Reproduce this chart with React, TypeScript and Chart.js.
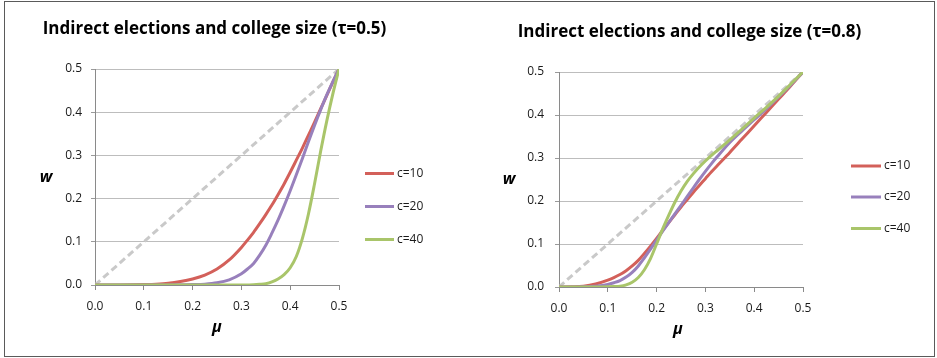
import React, { useEffect, useRef } from 'react';
import { Chart, registerables } from 'chart.js';

Chart.register(...registerables);

// ---------- data ----------
// tau = 0.5 panel
const MU_LEFT = [0, 0.025, 0.05, 0.075, 0.1, 0.125, 0.15, 0.175, 0.2, 0.225, 0.25, 0.275, 0.3, 0.3125, 0.325, 0.3375, 0.35, 0.3625, 0.375, 0.3875, 0.4, 0.4125, 0.425, 0.4375, 0.45, 0.4625, 0.475, 0.4875, 0.5];
const TAU05_C10 = [0, 0, 0, 0.0003, 0.001, 0.002, 0.004, 0.008, 0.014, 0.023, 0.037, 0.058, 0.087, 0.104, 0.122, 0.142, 0.163, 0.185, 0.209, 0.234, 0.261, 0.289, 0.317, 0.347, 0.377, 0.408, 0.439, 0.47, 0.5];
const TAU05_C20 = [0, 0, 0, 0, 0, 0, 0, 0.0005, 0.001, 0.002, 0.005, 0.012, 0.026, 0.037, 0.05, 0.069, 0.092, 0.12, 0.15, 0.183, 0.218, 0.255, 0.293, 0.332, 0.37, 0.406, 0.44, 0.471, 0.5];
const TAU05_C40 = [0, 0, 0, 0, 0, 0, 0, 0, 0, 0, 0, 0, 0, 0.0002, 0.0005, 0.0015, 0.003, 0.007, 0.014, 0.024, 0.04, 0.066, 0.108, 0.165, 0.235, 0.31, 0.38, 0.443, 0.5];

// tau = 0.8 panel
const MU_RIGHT = [0, 0.025, 0.05, 0.075, 0.1, 0.1125, 0.125, 0.1375, 0.15, 0.1625, 0.175, 0.1875, 0.2, 0.2125, 0.225, 0.2375, 0.25, 0.2625, 0.275, 0.2875, 0.3, 0.3125, 0.325, 0.35, 0.375, 0.4, 0.425, 0.45, 0.475, 0.5];
const TAU08_C10 = [0, 0.0005, 0.002, 0.007, 0.016, 0.022, 0.029, 0.038, 0.049, 0.062, 0.078, 0.095, 0.113, 0.132, 0.15, 0.168, 0.186, 0.203, 0.22, 0.236, 0.252, 0.268, 0.283, 0.313, 0.344, 0.375, 0.406, 0.437, 0.468, 0.5];
const TAU08_C20 = [0, 0, 0.0005, 0.002, 0.006, 0.01, 0.015, 0.023, 0.034, 0.049, 0.068, 0.088, 0.109, 0.13, 0.15, 0.17, 0.19, 0.21, 0.23, 0.25, 0.269, 0.287, 0.304, 0.336, 0.363, 0.389, 0.415, 0.442, 0.47, 0.5];
const TAU08_C40 = [0, 0, 0, 0, 0.0005, 0.001, 0.002, 0.005, 0.011, 0.022, 0.04, 0.066, 0.1, 0.135, 0.167, 0.197, 0.223, 0.245, 0.263, 0.279, 0.293, 0.306, 0.318, 0.342, 0.367, 0.393, 0.418, 0.444, 0.472, 0.5];

// 45-degree reference line
const DIAG_MU = [0, 0.5];
const DIAG_W = [0, 0.5];

const SERIES_LABELS = ['c=10', 'c=20', 'c=40'];
const SERIES_COLORS = ['#d3605a', '#9880bc', '#a9c56a'];
const X_TICKS = [0, 0.1, 0.2, 0.3, 0.4, 0.5];
const Y_TICKS = [0, 0.1, 0.2, 0.3, 0.4, 0.5];
const TITLE_LEFT = 'Indirect elections and college size (τ=0.5)';
const TITLE_RIGHT = 'Indirect elections and college size (τ=0.8)';
const X_TITLE = 'μ';
const Y_TITLE = 'w';

const FONT = '"Open Sans", Lato, "DejaVu Sans", sans-serif';

const annotPlugin = {
  id: 'annot',
  afterDraw(chart: any, _args: any, opts: any) {
    const ctx = chart.ctx;
    ctx.save();
    ctx.textBaseline = 'middle';
    ctx.textAlign = 'center';
    ctx.fillStyle = '#000';
    ctx.font = `bold 17px ${FONT}`;
    ctx.fillText(opts.title, opts.titleX, opts.titleY);
    ctx.font = `italic bold 16px ${FONT}`;
    ctx.fillText(Y_TITLE, opts.yTitleX, opts.yTitleY);
    ctx.fillText(X_TITLE, opts.xTitleX, opts.xTitleY);
    ctx.textAlign = 'left';
    ctx.font = `12px ${FONT}`;
    let k = 0;
    chart.data.datasets.forEach((ds: any) => {
      if (!ds.label) return;
      const y = opts.legendY[k++];
      ctx.strokeStyle = ds.borderColor;
      ctx.lineWidth = 3;
      ctx.beginPath();
      ctx.moveTo(opts.legendX0, y);
      ctx.lineTo(opts.legendX1, y);
      ctx.stroke();
      ctx.fillStyle = '#1a1a1a';
      ctx.fillText(ds.label, opts.legendTextX, y);
    });
    ctx.restore();
  },
};

function makeConfig(mu: number[], series: number[][], p: any) {
  const datasets: any[] = series.map((arr, i) => ({
    label: SERIES_LABELS[i],
    data: mu.map((m, j) => ({ x: m, y: arr[j] })),
    borderColor: SERIES_COLORS[i],
    backgroundColor: SERIES_COLORS[i],
    borderWidth: 3,
    pointRadius: 0,
    cubicInterpolationMode: 'monotone',
    fill: false,
    order: 2 - i,
  }));
  datasets.push({
    label: '',
    data: DIAG_MU.map((m, j) => ({ x: m, y: DIAG_W[j] })),
    borderColor: '#c9c9c9',
    borderWidth: 3,
    borderDash: [7, 4],
    pointRadius: 0,
    fill: false,
    order: 10,
  });
  const tickFont = { family: FONT, size: 12 };
  return {
    type: 'line',
    data: { datasets },
    plugins: [annotPlugin],
    options: {
      animation: false,
      responsive: false,
      devicePixelRatio: 1,
      layout: { padding: { left: 0, top: p.top, right: p.right, bottom: 0 } },
      plugins: {
        legend: { display: false },
        title: { display: false },
        tooltip: { enabled: false },
        annot: p.annot,
      },
      scales: {
        x: {
          type: 'linear',
          min: 0,
          max: 0.5,
          afterBuildTicks: (s: any) => { s.ticks = X_TICKS.map((v) => ({ value: v })); },
          afterFit: (s: any) => { s.height = p.xHeight; },
          ticks: { font: tickFont, color: '#1a1a1a', padding: 9, maxRotation: 0, callback: (v: any) => Number(v).toFixed(1) },
          grid: { drawOnChartArea: false, drawTicks: true, tickLength: 5, tickColor: '#8a8a8a' },
          border: { display: true, color: '#8a8a8a', width: 1 },
        },
        y: {
          type: 'linear',
          min: 0,
          max: 0.5,
          afterBuildTicks: (s: any) => { s.ticks = Y_TICKS.map((v) => ({ value: v })); },
          afterFit: (s: any) => { s.width = p.yWidth; },
          ticks: { font: tickFont, color: '#1a1a1a', padding: p.yPad, callback: (v: any) => Number(v).toFixed(1) },
          grid: { color: '#bdbdbd', drawTicks: true, tickLength: 4, tickColor: '#9a9a9a' },
          border: { display: true, color: '#8a8a8a', width: 1 },
        },
      },
    },
  };
}

function ChartPanel(props: { mu: number[]; series: number[][]; p: any; width: number; left: number }) {
  const ref = useRef<HTMLCanvasElement>(null);
  useEffect(() => {
    const chart = new Chart(ref.current as HTMLCanvasElement, makeConfig(props.mu, props.series, props.p) as any);
    return () => chart.destroy();
  }, []);
  return (
    <canvas
      ref={ref}
      width={props.width}
      height={358}
      style={{ position: 'absolute', left: props.left, top: 0, width: props.width, height: 358 }}
    />
  );
}

export default function App() {
  const leftP = {
    top: 69,
    right: 131,
    xHeight: 73,
    yWidth: 95,
    yPad: 9,
    annot: {
      title: TITLE_LEFT, titleX: 214.5, titleY: 29,
      yTitleX: 46, yTitleY: 177, xTitleX: 217, xTitleY: 327,
      legendX0: 365, legendX1: 394, legendTextX: 397, legendY: [173.5, 206.5, 239.5],
    },
  };
  const rightP = {
    top: 72,
    right: 134,
    xHeight: 71,
    yWidth: 89,
    yPad: 11,
    annot: {
      title: TITLE_RIGHT, titleX: 219.5, titleY: 32,
      yTitleX: 39, yTitleY: 179, xTitleX: 208, xTitleY: 329,
      legendX0: 381, legendX1: 411, legendTextX: 414, legendY: [166, 197, 228.5],
    },
  };
  return (
    <div style={{ position: 'absolute', left: 0, top: 0, width: 937, height: 358, background: '#fff', overflow: 'hidden' }}>
      <ChartPanel mu={MU_LEFT} series={[TAU05_C10, TAU05_C20, TAU05_C40]} p={leftP} width={470} left={0} />
      <ChartPanel mu={MU_RIGHT} series={[TAU08_C10, TAU08_C20, TAU08_C40]} p={rightP} width={467} left={470} />
      <div style={{ position: 'absolute', left: 4, top: 1, width: 931, height: 356, border: '1px solid #5a5a5a', boxSizing: 'border-box', pointerEvents: 'none' }} />
    </div>
  );
}
